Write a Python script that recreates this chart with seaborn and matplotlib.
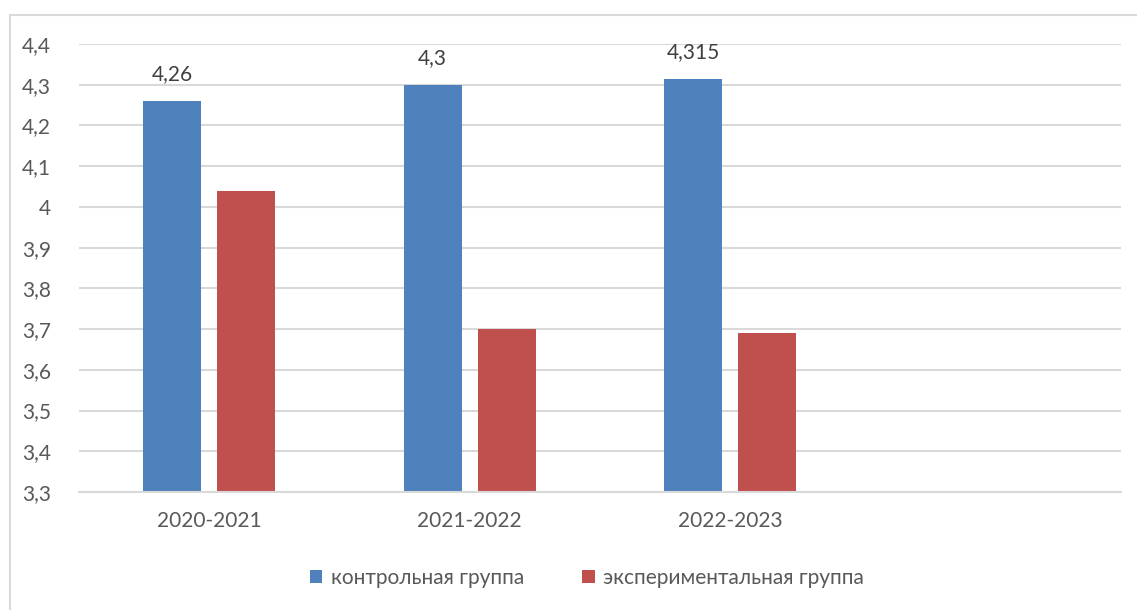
import pandas as pd
import seaborn as sns
import matplotlib.pyplot as plt
from matplotlib.ticker import FuncFormatter, MultipleLocator
from matplotlib.patches import Rectangle

# data
years = ['2020-2021', '2021-2022', '2022-2023']
control = [4.26, 4.3, 4.315]
experimental = [4.04, 3.7, 3.69]
groups = ['контрольная группа', 'экспериментальная группа']

df = pd.DataFrame({
    'year': years * 2,
    'value': control + experimental,
    'group': [groups[0]] * 3 + [groups[1]] * 3,
})

sns.set_style('white')
plt.rcParams['font.family'] = ['Lato', 'DejaVu Sans']

fig = plt.figure(figsize=(11.37, 6.1), dpi=100)
ax = fig.add_axes([79 / 1137, 1 - 492 / 610, (1121 - 79) / 1137, (492 - 44) / 610])

# empty fourth slot, as in the original
order = years + [' ']
sns.barplot(data=df, x='year', y='value', hue='group', order=order,
            palette=['#4f81bd', '#c0504d'], width=0.568, gap=0.216,
            saturation=1, linewidth=0, ax=ax)

ax.set_ylim(3.3, 4.4)
ax.yaxis.set_major_locator(MultipleLocator(0.1))
ax.yaxis.set_major_formatter(FuncFormatter(lambda v, p: f'{v:g}'.replace('.', ',')))
ax.set_xlim(-0.5, 3.5)
ax.grid(axis='y', color='#d9d9d9', linewidth=1.5)
ax.set_axisbelow(True)
for s in ['left', 'right', 'top']:
    ax.spines[s].set_visible(False)
ax.spines['bottom'].set_color('#d9d9d9')
ax.spines['bottom'].set_linewidth(1.5)
ax.tick_params(axis='both', length=0, labelsize=15, colors='#595959')
ax.tick_params(axis='x', pad=14)
ax.tick_params(axis='y', pad=20)
ax.set_xlabel('')
ax.set_ylabel('')

ax.bar_label(ax.containers[0], labels=[f'{v:g}'.replace('.', ',') for v in control],
             padding=12, fontsize=15, color='#404040')

ax.legend(loc='center', bbox_to_anchor=(587 / 1137, 1 - 578 / 610),
          bbox_transform=fig.transFigure, ncol=2, frameon=False, fontsize=15,
          labelcolor='#595959', handlelength=0.6, handleheight=0.6,
          handletextpad=0.4, columnspacing=2.8)

# light frame around chart
fig.patches.append(Rectangle((10 / 1137, -0.01), 1.02, 1 - 15 / 610 + 0.01,
                             transform=fig.transFigure, fill=False,
                             edgecolor='#d9d9d9', linewidth=1.5))

fig.savefig('out.png', dpi=100)
